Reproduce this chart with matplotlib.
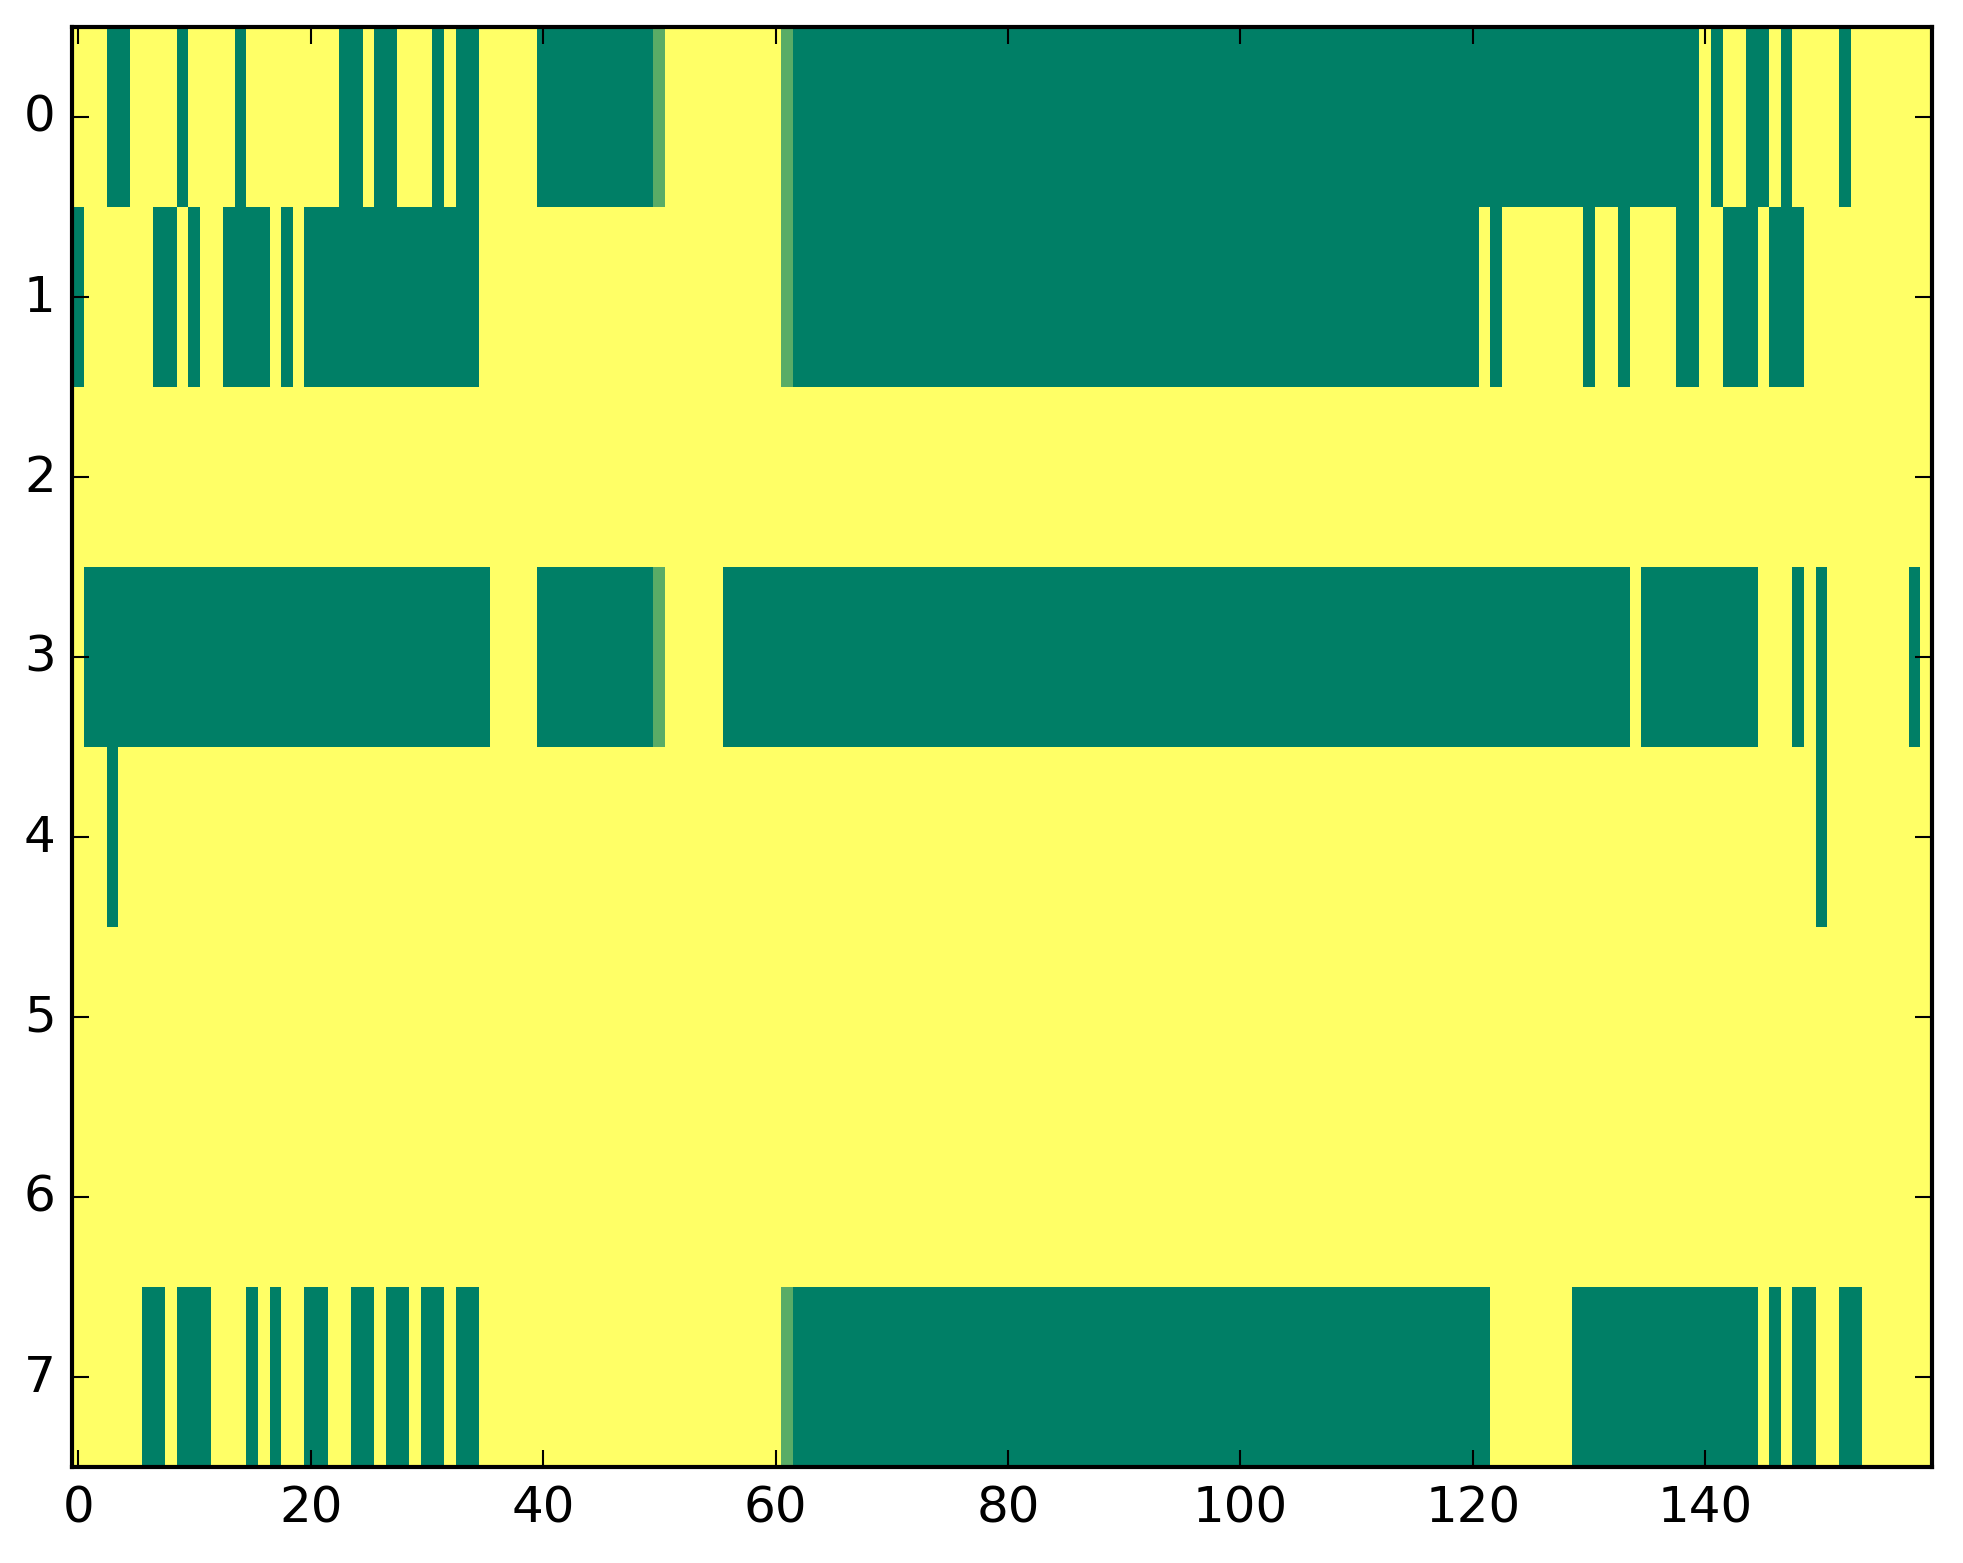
import numpy as np
import matplotlib
matplotlib.use('Agg')
import matplotlib.pyplot as plt

plt.style.use('classic')

N_ROWS = 8
N_COLS = 160

# runs of columns (start, end inclusive) that are 0 (dark green), per row
green_runs = {
    0: [(3, 4), (9, 9), (14, 14), (23, 24), (26, 27), (31, 31), (33, 34),
        (40, 49), (62, 139), (141, 141), (144, 145), (147, 147), (152, 152)],
    1: [(0, 0), (7, 8), (10, 10), (13, 16), (18, 18), (20, 34), (62, 120),
        (122, 122), (130, 130), (133, 133), (138, 139), (142, 144), (146, 148)],
    2: [],
    3: [(1, 35), (40, 49), (56, 133), (135, 144), (148, 148), (150, 150),
        (158, 158)],
    4: [(3, 3), (150, 150)],
    5: [],
    6: [],
    7: [(6, 7), (9, 11), (15, 15), (17, 17), (20, 21), (24, 25), (27, 28),
        (30, 31), (33, 34), (62, 121), (129, 144), (146, 146), (148, 149),
        (152, 153)],
}

# partial cells (lighter green)
light_cells = [(0, 50), (0, 61), (1, 61), (3, 50), (7, 61)]
light_value = 0.35

data = np.ones((N_ROWS, N_COLS))
for r, runs in green_runs.items():
    for a, b in runs:
        data[r, a:b + 1] = 0.0
for r, c in light_cells:
    data[r, c] = light_value

fig = plt.figure(figsize=(1963 / 300, 1564 / 300), dpi=300, facecolor='white')
ax = fig.add_axes([0.0369, 0.0614, 0.9473, 0.9207])
ax.imshow(data, cmap='summer', vmin=0, vmax=1, aspect='auto',
          interpolation='nearest')
ax.set_xticks(np.arange(0, 141, 20))
ax.set_yticks(np.arange(0, 8))
ax.set_xlim(-0.5, N_COLS - 0.5)
ax.set_ylim(N_ROWS - 0.5, -0.5)

fig.savefig('out.png', dpi=300, facecolor='white')
